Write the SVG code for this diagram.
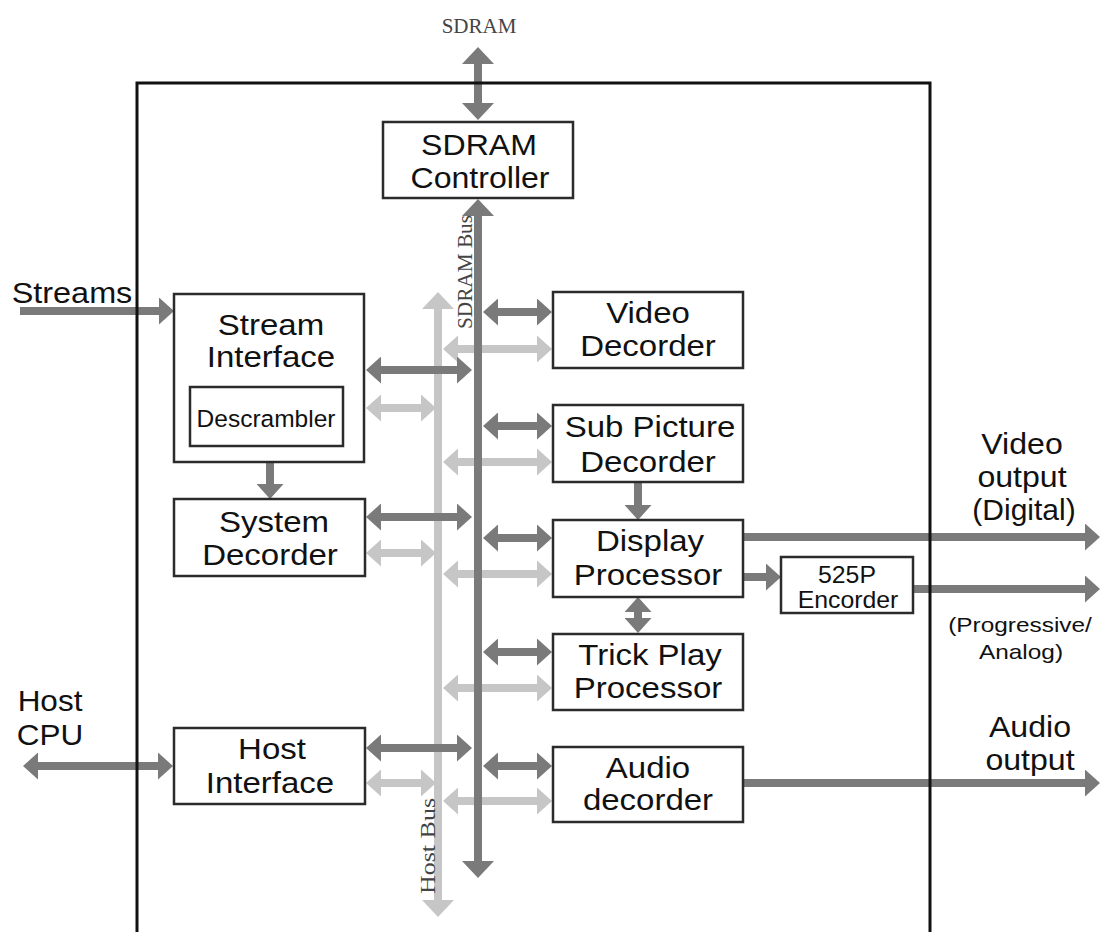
<svg xmlns="http://www.w3.org/2000/svg" width="1101" height="932" viewBox="0 0 1101 932">
<style>
.bx{fill:#fff;stroke:#2b2b2b;stroke-width:2.5}
.t{font-family:"Liberation Sans",Arial,sans-serif;font-size:30px;fill:#111;text-anchor:middle}
.ts{font-family:"Liberation Sans",Arial,sans-serif;font-size:24.5px;fill:#111;text-anchor:middle}
.tm{font-family:"Liberation Sans",Arial,sans-serif;font-size:23px;fill:#111;text-anchor:middle}
.tp{font-family:"Liberation Sans",Arial,sans-serif;font-size:20px;fill:#111;text-anchor:middle}
.sf{font-family:"Liberation Serif","Times New Roman",serif;font-size:21px;fill:#444;text-anchor:middle}
.d{stroke:#7a7a7a;stroke-width:8;fill:none}
.l{stroke:#c6c6c6;stroke-width:8;fill:none}
.da{marker-end:url(#ad);marker-start:url(#ad)}
.de{marker-end:url(#ad)}
.la{marker-end:url(#al);marker-start:url(#al)}
</style>
<defs>
<marker id="ad" markerUnits="userSpaceOnUse" viewBox="0 0 15 27" markerWidth="15" markerHeight="27" refX="0" refY="13.5" orient="auto-start-reverse"><path d="M0,0 L15,13.5 L0,27 Z" fill="#7a7a7a"/></marker>
<marker id="al" markerUnits="userSpaceOnUse" viewBox="0 0 15 27" markerWidth="15" markerHeight="27" refX="0" refY="13.5" orient="auto-start-reverse"><path d="M0,0 L15,13.5 L0,27 Z" fill="#c6c6c6"/></marker>
<marker id="bd" markerUnits="userSpaceOnUse" viewBox="0 0 17 32" markerWidth="17" markerHeight="32" refX="0" refY="16" orient="auto-start-reverse"><path d="M0,0 L17,16 L0,32 Z" fill="#7a7a7a"/></marker>
<marker id="bl" markerUnits="userSpaceOnUse" viewBox="0 0 17 32" markerWidth="17" markerHeight="32" refX="0" refY="16" orient="auto-start-reverse"><path d="M0,0 L17,16 L0,32 Z" fill="#c6c6c6"/></marker>
</defs>
<rect width="1101" height="932" fill="#fff"/>
<g id="connectors">
<line class="l" x1="438" y1="309" x2="438" y2="900" stroke-width="9" marker-start="url(#bl)" marker-end="url(#bl)"/>
<line class="l la" x1="381" y1="408" x2="421" y2="408"/>
<line class="l la" x1="381" y1="553" x2="421" y2="553"/>
<line class="l la" x1="381" y1="783" x2="421" y2="783"/>
<line class="l la" x1="458" y1="349" x2="537" y2="349"/>
<line class="l la" x1="458" y1="462" x2="537" y2="462"/>
<line class="l la" x1="458" y1="574" x2="537" y2="574"/>
<line class="l la" x1="458" y1="688" x2="537" y2="688"/>
<line class="l la" x1="458" y1="801" x2="537" y2="801"/>
<line class="d" x1="478" y1="216" x2="478" y2="861" stroke-width="10" marker-start="url(#bd)" marker-end="url(#bd)"/>
<line class="d" x1="478" y1="64" x2="478" y2="103" stroke-width="9" marker-start="url(#bd)" marker-end="url(#bd)"/>
<line class="d da" x1="381" y1="370" x2="457" y2="370"/>
<line class="d da" x1="381" y1="517" x2="457" y2="517"/>
<line class="d da" x1="381" y1="748" x2="457" y2="748"/>
<line class="d da" x1="498" y1="312" x2="537" y2="312"/>
<line class="d da" x1="498" y1="426" x2="537" y2="426"/>
<line class="d da" x1="498" y1="538" x2="537" y2="538"/>
<line class="d da" x1="498" y1="652" x2="537" y2="652"/>
<line class="d da" x1="498" y1="766" x2="537" y2="766"/>
<line class="d de" x1="20" y1="311" x2="159" y2="311"/>
<line class="d da" x1="38" y1="766" x2="158" y2="766"/>
<line class="d de" x1="270" y1="462" x2="270" y2="484"/>
<line class="d de" x1="638" y1="482" x2="638" y2="505"/>
<line class="d da" x1="638" y1="612" x2="638" y2="618"/>
<line class="d de" x1="743" y1="537" x2="1085" y2="537"/>
<line class="d de" x1="743" y1="577" x2="766" y2="577"/>
<line class="d de" x1="913" y1="589" x2="1085" y2="589"/>
<line class="d de" x1="743" y1="783" x2="1085" y2="783"/>
</g>
<path id="frame" d="M137,935 V83 H930 V935" fill="none" stroke="#111" stroke-width="3"/>
<g id="labels">
<text class="sf" x="479" y="33">SDRAM</text>
<text class="sf" transform="translate(472,272) rotate(-90)" textLength="114" lengthAdjust="spacingAndGlyphs">SDRAM Bus</text>
<text class="sf" transform="translate(435,846) rotate(-90)" textLength="96" lengthAdjust="spacingAndGlyphs">Host Bus</text>
<text class="t" transform="translate(72,303) scale(1.08,1)">Streams</text>
<text class="t" transform="translate(50,711) scale(1.05,1)">Host</text>
<text class="t" transform="translate(50,745) scale(1.05,1)">CPU</text>
<text class="t" transform="translate(1022,454) scale(1.07,1)">Video</text>
<text class="t" transform="translate(1022,487) scale(1.07,1)">output</text>
<text class="t" transform="translate(1024,520) scale(1.0,1)">(Digital)</text>
<text class="tp" transform="translate(1020,632) scale(1.22,1)">(Progressive/</text>
<text class="tp" transform="translate(1021,659) scale(1.22,1)">Analog)</text>
<text class="t" transform="translate(1030,737) scale(1.07,1)">Audio</text>
<text class="t" transform="translate(1030,770) scale(1.07,1)">output</text>
</g>
<g id="sdram-controller">
<rect class="bx" x="383" y="122" width="190" height="76"/>
<text class="t" transform="translate(479,155) scale(1.07,1)">SDRAM</text>
<text class="t" transform="translate(480,188) scale(1.07,1)">Controller</text>
</g>
<g id="stream-interface">
<rect class="bx" x="174" y="294" width="190" height="168"/>
<text class="t" transform="translate(271,335) scale(1.1,1)">Stream</text>
<text class="t" transform="translate(271,367) scale(1.1,1)">Interface</text>
<g id="descrambler">
<rect class="bx" x="190" y="387" width="153" height="59"/>
<text class="ts" x="266" y="427">Descrambler</text>
</g>
</g>
<g id="system-decorder">
<rect class="bx" x="174" y="499" width="191" height="77"/>
<text class="t" transform="translate(274,532) scale(1.1,1)">System</text>
<text class="t" transform="translate(270,565) scale(1.1,1)">Decorder</text>
</g>
<g id="host-interface">
<rect class="bx" x="174" y="728" width="191" height="76"/>
<text class="t" transform="translate(272,759) scale(1.1,1)">Host</text>
<text class="t" transform="translate(270,793) scale(1.1,1)">Interface</text>
</g>
<g id="video-decorder">
<rect class="bx" x="553" y="292" width="190" height="76"/>
<text class="t" transform="translate(648,323) scale(1.1,1)">Video</text>
<text class="t" transform="translate(648,356) scale(1.1,1)">Decorder</text>
</g>
<g id="sub-picture-decorder">
<rect class="bx" x="553" y="405" width="190" height="77"/>
<text class="t" transform="translate(650,437) scale(1.1,1)">Sub Picture</text>
<text class="t" transform="translate(648,472) scale(1.1,1)">Decorder</text>
</g>
<g id="display-processor">
<rect class="bx" x="553" y="520" width="190" height="77"/>
<text class="t" transform="translate(650,551) scale(1.1,1)">Display</text>
<text class="t" transform="translate(648,585) scale(1.1,1)">Processor</text>
</g>
<g id="trick-play-processor">
<rect class="bx" x="553" y="634" width="190" height="76"/>
<text class="t" transform="translate(650,665) scale(1.1,1)">Trick Play</text>
<text class="t" transform="translate(648,698) scale(1.1,1)">Processor</text>
</g>
<g id="audio-decorder">
<rect class="bx" x="553" y="747" width="190" height="75"/>
<text class="t" transform="translate(648,778) scale(1.1,1)">Audio</text>
<text class="t" transform="translate(648,810) scale(1.1,1)">decorder</text>
</g>
<g id="encorder-525p">
<rect class="bx" x="781" y="557" width="132" height="56"/>
<text class="tm" transform="translate(847,583) scale(1.08,1)">525P</text>
<text class="tm" transform="translate(848,608) scale(1.08,1)">Encorder</text>
</g>
</svg>
